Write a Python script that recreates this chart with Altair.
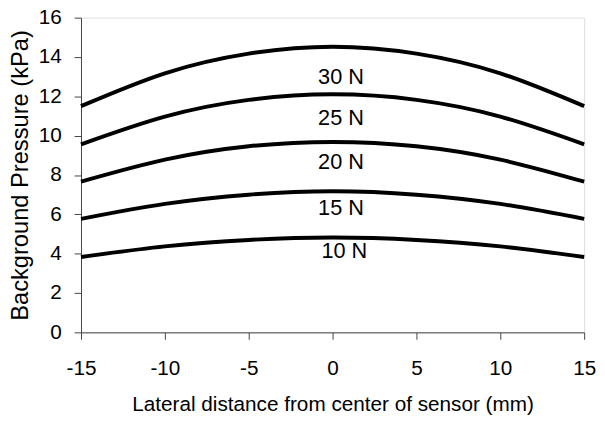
import altair as alt
import pandas as pd

x_vals = [-15, -10, -5, 0, 5, 10, 15]
series = {
    "30 N": [11.5, 13.17, 14.17, 14.52, 14.17, 13.17, 11.5],
    "25 N": [9.56, 10.97, 11.82, 12.1, 11.82, 10.97, 9.56],
    "20 N": [7.66, 8.78, 9.46, 9.68, 9.46, 8.78, 7.66],
    "15 N": [5.77, 6.53, 7.0, 7.17, 7.0, 6.53, 5.77],
    "10 N": [3.83, 4.37, 4.7, 4.82, 4.7, 4.37, 3.83],
}
x_ticks = [-15, -10, -5, 0, 5, 10, 15]
y_ticks = [0, 2, 4, 6, 8, 10, 12, 14, 16]
label_names = ["30 N", "25 N", "20 N", "15 N", "10 N"]
label_x = [0.5, 0.5, 0.5, 0.5, 0.7]
label_y = [12.98, 10.87, 8.67, 6.34, 4.14]

rows = []
for name, vals in series.items():
    for xv, yv in zip(x_vals, vals):
        rows.append({"force": name, "x": xv, "y": yv})
df = pd.DataFrame(rows)
labels = pd.DataFrame({"label": label_names, "x": label_x, "y": label_y})

FONT = "Liberation Sans"

xs = alt.Scale(domain=[-15, 15], nice=False, zero=False)
ys = alt.Scale(domain=[0, 16], nice=False)

x_axis = alt.Axis(
    title="Lateral distance from center of sensor (mm)",
    values=x_ticks, grid=False,
    labelExpr="'' + datum.value", labelOverlap=False, labelFlush=False,
    tickSize=7, labelFontSize=21, titleFontSize=21,
    labelPadding=19, titlePadding=15, titleFontWeight="normal",
    domainColor="#444", tickColor="#444", labelColor="black",
    labelFont=FONT, titleFont=FONT)
y_axis = alt.Axis(
    title="Background Pressure (kPa)",
    values=y_ticks, grid=False, tickCount=9,
    labelExpr="'' + datum.value", labelOverlap=False, labelFlush=False,
    tickSize=7, labelFontSize=21, titleFontSize=24,
    labelPadding=13, titlePadding=6, titleFontWeight="normal",
    domainColor="#444", tickColor="#444", labelColor="black",
    labelFont=FONT, titleFont=FONT)

lines = alt.Chart(df).mark_line(
    color="black", strokeWidth=4, interpolate="natural"
).encode(
    x=alt.X("x:Q", scale=xs, axis=x_axis),
    y=alt.Y("y:Q", scale=ys, axis=y_axis),
    detail="force:N",
)

text = alt.Chart(labels).mark_text(
    fontSize=22, font=FONT, color="black", align="center", baseline="middle"
).encode(
    x=alt.X("x:Q", scale=xs, axis=x_axis),
    y=alt.Y("y:Q", scale=ys, axis=y_axis),
    text="label:N",
)

chart = (lines + text).properties(
    width=510, height=319,
    autosize=alt.AutoSizeParams(type="none"),
    padding={"left": 74, "top": 7, "right": 13, "bottom": 81},
).configure_view(stroke=None).configure(background="white")

chart.save("out.html", embed_options={"renderer": "svg", "actions": False})
